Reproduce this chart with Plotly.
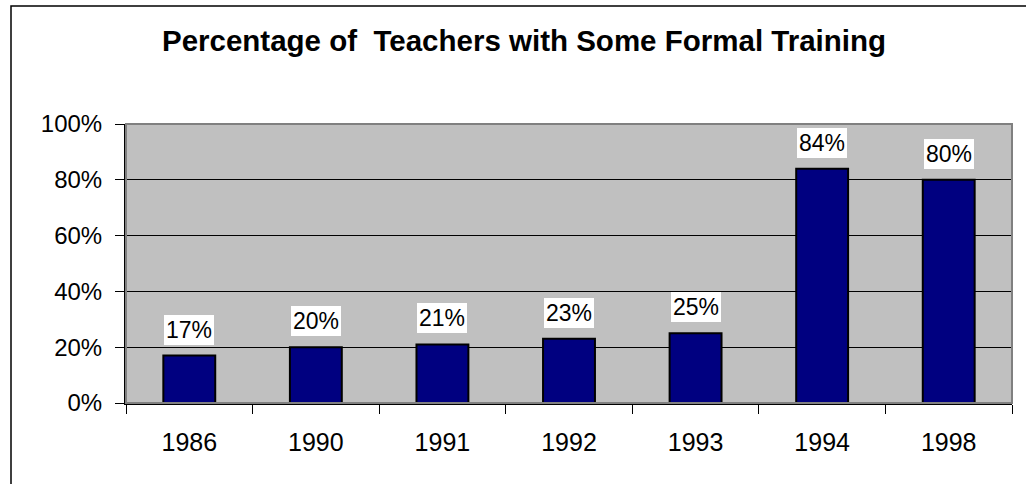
import plotly.graph_objects as go

years = ["1986", "1990", "1991", "1992", "1993", "1994", "1998"]
values = [17, 20, 21, 23, 25, 84, 80]
labels = ["17%", "20%", "21%", "23%", "25%", "84%", "80%"]
y_ticks = [0, 20, 40, 60, 80, 100]
y_tick_text = ["0%", "20%", "40%", "60%", "80%", "100%"]
title_text = "Percentage of \u00a0Teachers with Some Formal Training"

FONT = "Arial, Liberation Sans, sans-serif"
W, H = 1026, 484
L, R, T, B = 126, 14, 124, 81
pw, ph = W - L - R, H - T - B

fig = go.Figure()
fig.add_trace(go.Bar(
    x=years, y=values, width=0.41,
    marker=dict(color="#000080", line=dict(color="black", width=2)),
    hoverinfo="skip",
))

for i, (v, lab) in enumerate(zip(values, labels)):
    fig.add_annotation(
        x=i, y=v, text=lab, showarrow=False, yanchor="bottom", yshift=11,
        bgcolor="white", borderpad=2, borderwidth=0,
        font=dict(family=FONT, size=23, color="black"),
    )

# outer chart border (extends past right/bottom of the picture)
fig.add_shape(type="rect", xref="paper", yref="paper",
              x0=(11 - L) / pw, x1=(W + 20 - L) / pw,
              y0=-(B + 20) / ph, y1=(H - 6 - B) / ph,
              line=dict(color="black", width=1.5), layer="below")
# plot area border (gray top/right)
fig.add_shape(type="rect", xref="paper", yref="paper", x0=0, x1=1, y0=0, y1=1,
              line=dict(color="#808080", width=2), layer="above")

fig.update_layout(
    width=W, height=H,
    margin=dict(l=L, r=R, t=T, b=B, autoexpand=False),
    paper_bgcolor="white", plot_bgcolor="#C0C0C0",
    showlegend=False,
    title=dict(text="<b>" + title_text + "</b>", xref="container", yref="container",
               x=524 / W, xanchor="center", y=1 - 41 / H, yanchor="middle",
               font=dict(family=FONT, size=29.5, color="black")),
    xaxis=dict(type="category", range=[-0.5, len(years) - 0.5], showline=True,
               linecolor="black", linewidth=2, tickangle=0,
               ticks="outside", tickson="boundaries", ticklen=9, tickcolor="black", tickwidth=1,
               showgrid=False, tickfont=dict(family=FONT, size=25, color="black"),
               ticklabelstandoff=16, automargin=False),
    yaxis=dict(range=[0, 100], tickvals=y_ticks, ticktext=y_tick_text,
               showline=True, linecolor="black", linewidth=2,
               ticks="outside", ticklen=9, tickcolor="black", tickwidth=1,
               showgrid=True, gridcolor="black", gridwidth=1, zeroline=False,
               tickfont=dict(family=FONT, size=24, color="black"),
               ticklabelstandoff=8, automargin=False),
)

fig.write_html("out.html",
               config={"displayModeBar": False, "staticPlot": True},
               post_script="document.body.style.margin='0';document.body.style.overflow='hidden';")
